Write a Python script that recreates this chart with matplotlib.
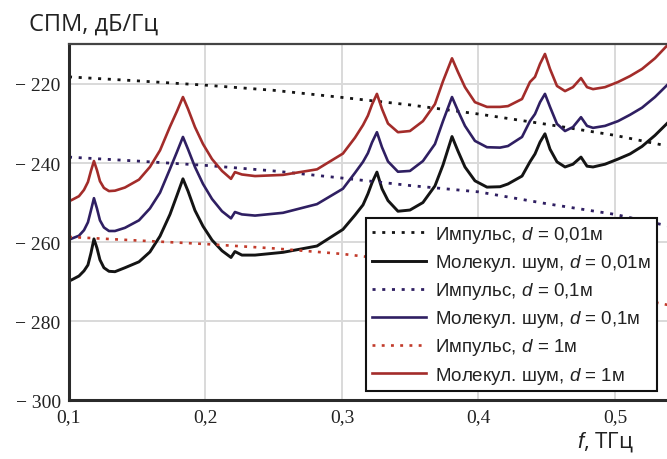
import matplotlib
matplotlib.use('Agg')
import matplotlib.pyplot as plt
from matplotlib.ticker import FixedLocator, FuncFormatter

plt.rcParams['font.family'] = ['Liberation Sans', 'DejaVu Sans']
plt.rcParams['mathtext.fontset'] = 'custom'
plt.rcParams['mathtext.it'] = 'Liberation Sans:italic'
plt.rcParams['mathtext.rm'] = 'Liberation Serif'

# frequency grid for the molecular noise curves, THz
f_noise = [0.1000, 0.1029, 0.1073, 0.1110, 0.1139, 0.1161, 0.1183, 0.1205, 0.1227,
           0.1256, 0.1293, 0.1337, 0.1410, 0.1513, 0.1593, 0.1667, 0.1740, 0.1791,
           0.1835, 0.1872, 0.1923, 0.1982, 0.2048, 0.2121, 0.2187, 0.2216, 0.2267,
           0.2363, 0.2568, 0.2817, 0.3007, 0.3095, 0.3154, 0.3190, 0.3220, 0.3256,
           0.3293, 0.3337, 0.3410, 0.3498, 0.3593, 0.3681, 0.3740, 0.3806, 0.3850,
           0.3901, 0.3974, 0.4062, 0.4158, 0.4216, 0.4319, 0.4377, 0.4414, 0.4451,
           0.4487, 0.4524, 0.4575, 0.4634, 0.4692, 0.4751, 0.4795, 0.4839, 0.4927,
           0.5022, 0.5110, 0.5198, 0.5293, 0.5381]

noise_001 = [-269.9, -269.4, -268.6, -267.3, -265.8, -262.8, -259.2, -261.5, -264.5,
             -266.5, -267.4, -267.5, -266.5, -265.0, -262.5, -258.5, -253.0, -248.2,
             -244.0, -247.1, -252.0, -256.0, -259.5, -262.2, -263.9, -262.4, -263.3,
             -263.3, -262.6, -261.0, -256.8, -253.2, -250.6, -247.8, -245.0, -242.3,
             -246.5, -249.5, -252.2, -251.9, -250.0, -245.8, -240.5, -233.3, -237.0,
             -241.0, -244.5, -246.1, -246.0, -245.3, -243.3, -239.7, -237.7, -234.7,
             -232.6, -236.5, -239.7, -241.0, -240.3, -238.5, -240.8, -241.0, -240.3,
             -239.0, -237.7, -235.8, -233.0, -230.0]

noise_01 = [-259.4, -259.0, -258.4, -257.0, -255.0, -252.0, -248.9, -251.5, -254.5,
            -256.3, -257.2, -257.2, -256.4, -254.5, -251.5, -247.5, -241.5, -237.2,
            -233.4, -236.5, -241.0, -245.3, -249.1, -252.2, -254.0, -252.4, -253.0,
            -253.3, -252.6, -250.4, -246.5, -242.5, -239.7, -237.5, -234.8, -232.2,
            -236.0, -239.6, -242.2, -242.0, -239.5, -235.2, -229.4, -223.3, -226.8,
            -230.6, -234.4, -236.0, -236.1, -235.7, -233.4, -229.4, -227.6, -224.6,
            -222.5, -225.8, -230.1, -231.9, -230.9, -228.4, -230.6, -231.1, -230.6,
            -229.4, -227.8, -226.0, -223.3, -220.3]

noise_1 = [-249.7, -249.2, -248.4, -246.8, -244.8, -242.0, -239.5, -241.8, -244.6,
           -246.3, -247.1, -247.0, -246.2, -244.2, -241.0, -236.8, -230.8, -226.9,
           -223.3, -226.3, -230.9, -235.2, -239.0, -242.0, -244.0, -242.3, -242.9,
           -243.3, -243.0, -241.6, -237.6, -233.6, -230.4, -228.0, -225.2, -222.5,
           -226.3, -230.0, -232.2, -231.9, -229.4, -225.1, -219.3, -213.5, -217.0,
           -220.8, -224.6, -225.8, -225.8, -225.6, -223.8, -219.5, -218.2, -214.9,
           -212.4, -216.2, -220.5, -221.8, -220.8, -218.5, -220.8, -221.3, -220.8,
           -219.5, -218.0, -216.2, -213.5, -210.3]

# impulse response curves, coarser grid
f_imp = [0.10, 0.15, 0.20, 0.25, 0.30, 0.35, 0.40, 0.45, 0.50, 0.54]
imp_001 = [-218.2, -219.2, -220.3, -221.6, -223.4, -225.3, -227.6, -230.2, -233.0, -235.8]
imp_01 = [-238.5, -239.5, -240.6, -242.0, -243.8, -245.7, -247.3, -250.3, -253.0, -256.0]
imp_1 = [-258.7, -259.6, -260.5, -261.6, -263.0, -265.0, -267.5, -270.2, -273.2, -276.0]

x_ticks = [0.1, 0.2, 0.3, 0.4, 0.5]
y_ticks = [-300, -280, -260, -240, -220]

c_black = '#141414'
c_navy = '#2f1f62'
c_red = '#a32c2a'
c_red_dot = '#c23b2b'

fig = plt.figure(figsize=(6.67, 4.6), dpi=100)
ax = fig.add_axes([0.1034, 0.128, 0.8966, 0.774])

dots = (0, (1.1, 2.4))
ax.plot(f_imp, imp_001, color=c_black, lw=2.0, ls=dots, label=r'Импульс, $d$ = 0,01м')
ax.plot(f_noise, noise_001, color=c_black, lw=2.1, label=r'Молекул. шум, $d$ = 0,01м')
ax.plot(f_imp, imp_01, color=c_navy, lw=2.0, ls=dots, label=r'Импульс, $d$ = 0,1м')
ax.plot(f_noise, noise_01, color=c_navy, lw=1.9, label=r'Молекул. шум, $d$ = 0,1м')
ax.plot(f_imp, imp_1, color=c_red_dot, lw=1.9, ls=dots, label=r'Импульс, $d$ = 1м')
ax.plot(f_noise, noise_1, color=c_red, lw=1.9, label=r'Молекул. шум, $d$ = 1м')

ax.set_xlim(0.1, 0.5381)
ax.set_ylim(-300, -209.9)
ax.xaxis.set_major_locator(FixedLocator(x_ticks))
ax.yaxis.set_major_locator(FixedLocator(y_ticks))
ax.xaxis.set_major_formatter(FuncFormatter(lambda v, p: f'{v:.1f}'.replace('.', ',')))
ax.yaxis.set_major_formatter(FuncFormatter(lambda v, p: '\u2212 ' + str(abs(int(round(v))))))
ax.tick_params(length=0, labelsize=14, pad=6, labelcolor='#222222')
for lab in ax.get_xticklabels() + ax.get_yticklabels():
    lab.set_family(['Liberation Serif', 'DejaVu Serif'])
ax.grid(True, color='#d9d9d9', lw=1.4)
ax.set_axisbelow(True)

for s in ('left', 'bottom'):
    ax.spines[s].set_color('#2a2a2a')
    ax.spines[s].set_linewidth(2.2)
ax.spines['top'].set_color('#444444')
ax.spines['top'].set_linewidth(1.6)
ax.spines['right'].set_visible(False)

leg = ax.legend(loc='lower right', bbox_to_anchor=(0.983, 0.025), borderaxespad=0,
                fontsize=13.5, handlelength=2.9, handletextpad=0.5, labelspacing=0.38,
                borderpad=0.3, fancybox=False, framealpha=1, edgecolor='#111111')
leg.get_frame().set_linewidth(1.5)
for t in leg.get_texts():
    t.set_color('#222222')

fig.text(0.0435, 0.946, 'СПМ, дБ/Гц', fontsize=17, color='#222222', va='center',
         ha='left', family=['Open Sans', 'DejaVu Sans'])
fig.text(0.865, 0.04, r'$f$, ТГц', fontsize=16, color='#222222', va='center',
         family=['Open Sans', 'DejaVu Sans'])

fig.savefig('out.png', dpi=100)
